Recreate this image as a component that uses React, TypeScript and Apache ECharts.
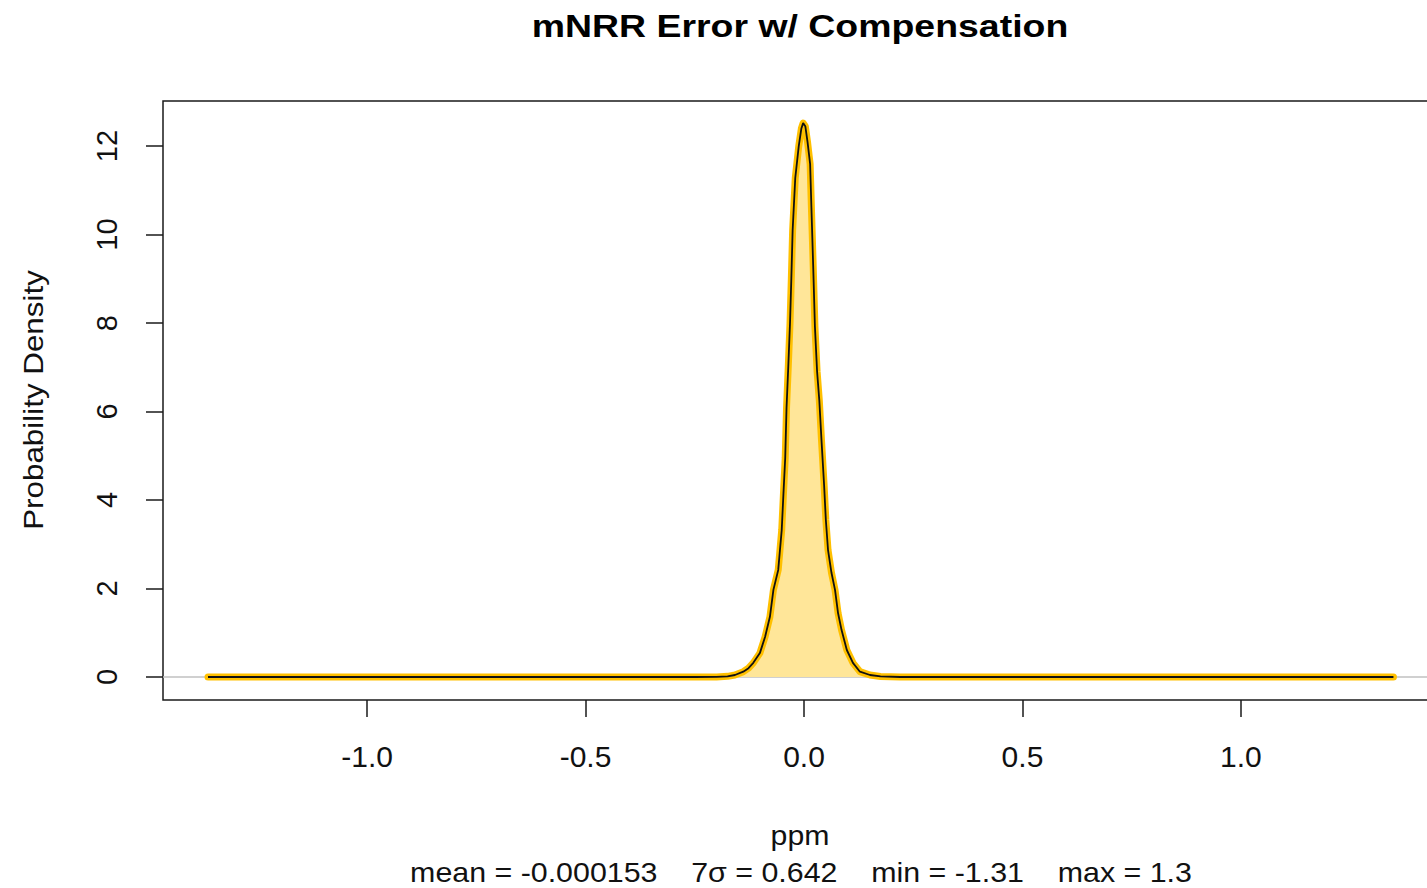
import React, { useEffect, useRef } from "react";
import * as echarts from "echarts";

const titleText = "mNRR Error w/ Compensation";
const xAxisTitle = "ppm";
const statsText = "mean = -0.000153    7\u03c3 = 0.642    min = -1.31    max = 1.3";
const yAxisTitle = "Probability Density";

const xTicks = [-1.0, -0.5, 0.0, 0.5, 1.0];
const yTicks = [0, 2, 4, 6, 8, 10, 12];

const densityX = [-1.364, -0.25, -0.2, -0.175, -0.158, -0.139, -0.127, -0.116, -0.101, -0.089, -0.078, -0.070, -0.059, -0.051, -0.047, -0.043, -0.040, -0.036, -0.032, -0.029, -0.026, -0.020, -0.012, -0.006, -0.002, 0.003, 0.008, 0.014, 0.017, 0.021, 0.025, 0.030, 0.035, 0.040, 0.046, 0.050, 0.055, 0.063, 0.071, 0.078, 0.086, 0.098, 0.112, 0.128, 0.151, 0.175, 0.22, 1.349];
const densityY = [0, 0, 0.002, 0.015, 0.045, 0.12, 0.2, 0.32, 0.54, 0.91, 1.36, 1.97, 2.42, 3.32, 4.15, 4.95, 6.08, 7.01, 8.0, 9.0, 10.1, 11.28, 12.0, 12.4, 12.52, 12.45, 12.1, 11.6, 10.6, 9.3, 7.92, 6.9, 6.26, 5.36, 4.34, 3.55, 2.87, 2.35, 1.97, 1.44, 1.06, 0.61, 0.32, 0.12, 0.045, 0.012, 0, 0];

const xRange = [-1.467, 1.467];
const yRange = [-0.52, 13.02];

export default function App() {
  const ref = useRef<HTMLDivElement>(null);
  useEffect(() => {
    if (!ref.current) return;
    const chart = echarts.init(ref.current, null, { renderer: "svg" });
    const pts = densityX.map((x, i) => [x, densityY[i]]);
    const font = "'Liberation Sans', Arial, sans-serif";
    chart.setOption({
      animation: false,
      backgroundColor: "#ffffff",
      grid: {
        left: 163,
        top: 101,
        bottom: 188,
        right: 0,
        show: true,
        borderColor: "#1a1a1a",
        borderWidth: 1.5,
        backgroundColor: "transparent",
      },
      xAxis: {
        type: "value",
        min: xRange[0],
        max: xRange[1],
        splitLine: { show: false },
        axisLine: { show: false, onZero: false },
        axisTick: {
          show: true,
          customValues: xTicks,
          length: 17,
          lineStyle: { color: "#1a1a1a", width: 1.5 },
        },
        axisLabel: {
          customValues: xTicks,
          formatter: (v: number) => v.toFixed(1),
          fontFamily: font,
          fontSize: 30,
          color: "#111",
          margin: 41,
        },
      },
      yAxis: {
        type: "value",
        min: yRange[0],
        max: yRange[1],
        splitLine: { show: false },
        axisLine: { show: false, onZero: false },
        axisTick: {
          show: true,
          customValues: yTicks,
          length: 17,
          lineStyle: { color: "#1a1a1a", width: 1.5 },
        },
        axisLabel: {
          customValues: yTicks,
          rotate: 90,
          formatter: (v: number) => String(v),
          fontFamily: font,
          fontSize: 29,
          color: "#111",
          margin: 42,
        },
      },
      series: [
        {
          type: "line",
          data: [[xRange[0], 0], [xRange[1], 0]],
          showSymbol: false,
          lineStyle: { color: "#c0c0c0", width: 1.5 },
          z: 1,
          silent: true,
        },
        {
          type: "line",
          data: pts,
          showSymbol: false,
          lineStyle: { color: "#ffc000", width: 7, cap: "round", join: "round" },
          areaStyle: { color: "#ffe699", opacity: 1 },
          z: 2,
        },
        {
          type: "line",
          data: pts,
          showSymbol: false,
          lineStyle: { color: "#111111", width: 1.8 },
          z: 3,
        },
      ],
      graphic: [
        {
          type: "text",
          x: 800,
          y: 26,
          scaleX: 1.17,
          style: {
            text: titleText,
            font: `bold 32px ${font}`,
            fill: "#000",
            align: "center",
            verticalAlign: "middle",
          },
        },
        {
          type: "text",
          x: 800,
          y: 835,
          scaleX: 1.08,
          style: {
            text: xAxisTitle,
            font: `28px ${font}`,
            fill: "#111",
            align: "center",
            verticalAlign: "middle",
          },
        },
        {
          type: "text",
          x: 801,
          y: 872,
          scaleX: 1.085,
          style: {
            text: statsText,
            font: `28px ${font}`,
            fill: "#111",
            align: "center",
            verticalAlign: "middle",
          },
        },
        {
          type: "text",
          x: 33,
          y: 400,
          rotation: Math.PI / 2,
          scaleX: 1.12,
          style: {
            text: yAxisTitle,
            font: `28px ${font}`,
            fill: "#111",
            align: "center",
            verticalAlign: "middle",
          },
        },
      ],
    });
    return () => chart.dispose();
  }, []);
  return (
    <div
      style={{
        position: "fixed",
        left: 0,
        top: 0,
        width: 1427,
        height: 888,
        overflow: "hidden",
        background: "#fff",
      }}
    >
      <div ref={ref} style={{ width: 1445, height: 888 }} />
    </div>
  );
}
